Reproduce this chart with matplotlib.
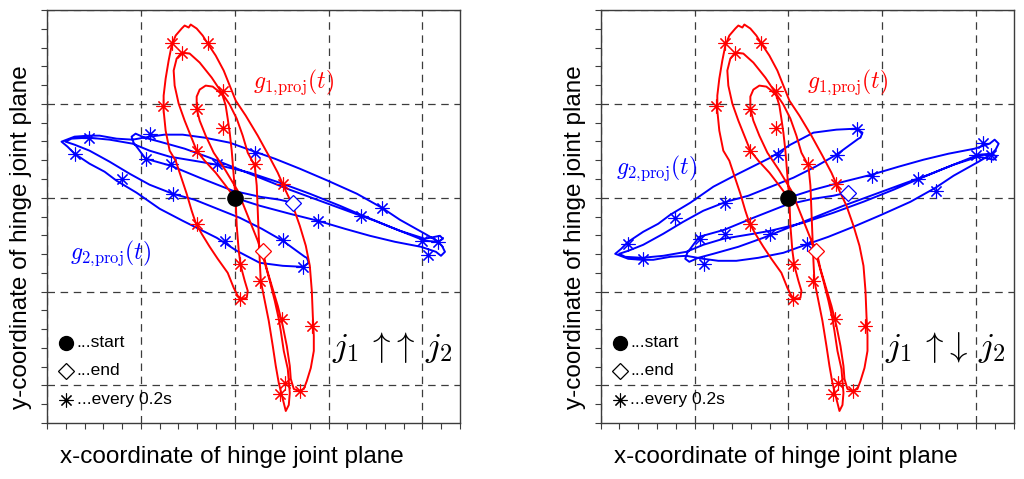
import numpy as np
import matplotlib
matplotlib.use("Agg")
import matplotlib.pyplot as plt
from matplotlib.ticker import MultipleLocator

plt.rcParams.update({
    'font.family': 'sans-serif',
    'font.sans-serif': ['Liberation Sans', 'DejaVu Sans'],
    'mathtext.fontset': 'cm',
})

RED = "#FF0000"
BLUE = "#0000FF"
GRID = "#3C3C3C"
U = 93.75  # grid spacing (arbitrary units, no tick labels)

# ── g1,proj(t): same trajectory in both panels ───────────────────────────────
g1_x = [0, -9, -19, -30, -38, -44, -50, -56, -60, -61, -58, -53,
        -45, -35, -23, -13, -5, 2, 8, 13, 20, 22, 23, 24, 25, 26, 30, 34, 38, 41, 44, 48, 51, 54,
        55, 54, 53, 49, 46, 44, 40, 35, 30, 23, 13, 3, -9, -21, -29, -35, -38, -38, -35, -29, -22,
        -17, -12, -9, -7, -5, -3, -1, 1, 2, 4, 6, 10, 13, 12, 7,
        3, -1, -7, -17, -25, -33, -39, -43, -48, -54, -59, -65, -69, -71, -71, -69, -66, -63, -59,
        -53, -50, -46, -44, -41, -38,
        -32, -27, -19, -11, -5, 1, 11, 23, 34, 43, 50, 58, 65, 71, 75, 77, 78, 79, 79, 76, 72, 69, 64,
        59, 56, 55, 52, 48, 43, 37, 32, 28]
g1_y = [0, 12, 25, 37, 47, 62, 77, 94, 112, 127, 139, 145,
        144, 135, 120, 105, 93, 79, 62, 45, 32, 12, -13, -38, -63, -83, -103, -123, -148, -168, -185,
        -201, -213, -207,
        -195, -183, -171, -153, -133, -121, -103, -83, -65, -43, -18, 7, 27, 45, 62, 77, 89, 101, 108,
        112, 111,
        107, 102, 92, 79, 65, 47, 22, -3, -28, -53, -68, -83, -93, -100, -101,
        -98, -90, -75, -61, -49, -36, -25, -13, 4, 22, 37, 47, 67, 87, 102, 119, 137, 152, 162,
        169, 172, 170, 173, 171, 169,
        162, 154, 142, 127, 112, 97, 82, 62, 42, 25, 9, -8, -28, -48, -68, -93, -118, -138, -153,
        -170, -183, -191, -193,
        -191, -181, -168, -148, -128, -108, -88, -71, -53]
g1_star_x = [-63, -53, -27, -72, -38, -12, -12, -38, 20, 48, -38, 5, 25, 5, 47, 77, 50, 45, 65]
g1_star_y = [155, 145, 155, 92, 89, 107, 70, 47, 34, 14, -26, -66, -83, -101, -121, -128, -185, -196, -193]
g1_end = (28, -53)

# ── g2,proj(t), left panel (j1 ↑↑ j2) ────────────────────────────────────────
g2a_x = [0, 25, 55, 83, 110, 135, 160, 186, 201, 206, 210, 207,
         202, 190, 165, 147, 122, 93, 65, 40, 20, -5, -30, -52, -70, -85, -102, -118, -135, -146, -160, -173,
         -167, -160, -145, -130, -118, -98, -75, -52, -18, 2, 25, 48, 68, 74, 72,
         70, 48, 27, 5, -20, -40, -62, -85, -105, -125, -145, -160, -169, -163,
         -146, -125, -102, -85, -65, -35, -18, 15, 45, 75, 105, 126, 155, 175, 190, 203, 208, 205,
         190, 165, 140, 115, 85, 55, 30, 5, -25, -50, -75, -90, -99, -103, -101, -95, -89, -64, -35,
         -2, 25, 45, 58]
g2a_y = [0, -8, -16, -23, -31, -38, -44, -49, -54, -58, -54, -48,
         -43, -36, -22, -10, 4, 17, 29, 39, 46, 55, 60, 63, 63, 61, 58, 59, 62, 62, 61, 56,
         51, 44, 34, 26, 17, 5, -11, -23, -40, -53, -65, -68, -69, -65, -60,
         -59, -43, -31, -20, -10, -2, 4, 13, 24, 36, 47, 53, 56, 59,
         60, 58, 54, 47, 41, 36, 33, 25, 15, 4, -8, -17, -29, -37, -43, -44, -41, -38,
         -41, -33, -23, -14, -3, 8, 18, 28, 40, 49, 56, 60, 64, 61, 55, 47, 39, 32, 20,
         7, 1, -2, -5]
g2a_star_x = [-146, -160, -85, -89, -64, -113, -62, -18, 20, -10, 48, 68, 83, 126, 147, 187, 203, 193]
g2a_star_y = [60, 44, 64, 39, 34, 19, 4, 34, 45, -43, -42, -69, -23, -18, -10, -43, -44, -57]
g2a_end = (58, -5)

# ── g2,proj(t), right panel (j1 ↑↓ j2) ───────────────────────────────────────
g2b_x = g2a_x
g2b_y = [0, 8, 16, 23, 31, 38, 44, 49, 54, 58, 54, 48,
         43, 36, 22, 10, -4, -17, -29, -39, -46, -55, -60, -63, -63, -61, -58, -59, -62, -62, -61, -56,
         -51, -44, -34, -26, -17, -5, 11, 23, 40, 53, 65, 68, 69, 65, 60,
         59, 43, 31, 20, 10, 2, -4, -13, -24, -36, -47, -53, -56, -59,
         -60, -58, -54, -47, -41, -36, -33, -25, -15, -4, 8, 17, 29, 37, 43, 44, 41, 38,
         41, 33, 23, 14, 3, -8, -18, -28, -40, -49, -56, -60, -64, -61, -55, -47, -39, -32, -20,
         -7, -1, 2, 5]
g2b_star_x = [-160, -145, -113, -63, -88, -63, -18, -10, -84, 19, 49, 69, 84, 129, 147, 187, 194, 202]
g2b_star_y = [-46, -61, -20, -5, -41, -36, -36, 43, -66, -46, 43, 69, 22, 19, 7, 43, 55, 43]
g2b_end = (60, 5)

panels = [
    dict(g2x=g2a_x, g2y=g2a_y, sx=g2a_star_x, sy=g2a_star_y, end=g2a_end,
         rel=r"$j_1\,{\uparrow}\!{\uparrow}\,j_2$", g2lab=(-124, -55)),
    dict(g2x=g2b_x, g2y=g2b_y, sx=g2b_star_x, sy=g2b_star_y, end=g2b_end,
         rel=r"$j_1\,{\uparrow}\!{\downarrow}\,j_2$", g2lab=(-132, 30)),
]

fig = plt.figure(figsize=(10.24, 4.79), dpi=100)
axes = [fig.add_axes([0.0459, 0.1169, 0.4033, 0.8622]),
        fig.add_axes([0.5866, 0.1169, 0.4033, 0.8622])]

STAR = (8, 2, 0)
for ax, p in zip(axes, panels):
    ax.set_xlim(-2 * U, 2.4 * U)
    ax.set_ylim(-2.4 * U, 2 * U)
    ax.xaxis.set_major_locator(MultipleLocator(U))
    ax.yaxis.set_major_locator(MultipleLocator(U))
    ax.xaxis.set_minor_locator(MultipleLocator(U / 5))
    ax.yaxis.set_minor_locator(MultipleLocator(U / 5))
    ax.tick_params(which='both', direction='out', length=4, width=0.8, color=GRID,
                   labelbottom=False, labelleft=False)
    ax.grid(True, which='major', color=GRID, lw=0.9, ls=(0, (6, 4.5)))
    for s in ax.spines.values():
        s.set_color(GRID)
        s.set_linewidth(1.0)

    # blue trajectory
    ax.plot(p['g2x'], p['g2y'], color=BLUE, lw=1.4, zorder=3)
    ax.plot(p['sx'], p['sy'], ls='none', marker=STAR, ms=10, mew=0.8, color=BLUE, zorder=4)
    ax.plot(*p['end'], ls='none', marker='D', ms=8, mfc='white', mec=BLUE, mew=0.9, zorder=6)

    # red trajectory
    ax.plot(g1_x, g1_y, color=RED, lw=1.4, zorder=4)
    ax.plot(g1_star_x, g1_star_y, ls='none', marker=STAR, ms=10, mew=0.8, color=RED, zorder=5)
    ax.plot(*g1_end, ls='none', marker='D', ms=8, mfc='white', mec=RED, mew=0.9, zorder=6)

    # start point
    ax.plot(0, 0, ls='none', marker='o', ms=11, color='black', zorder=7)

    # labels
    ax.text(59, 115, r"$g_{1{,}\mathrm{proj}}(t)$", color=RED, fontsize=17,
            ha='center', va='center')
    ax.text(*p['g2lab'], r"$g_{2{,}\mathrm{proj}}(t)$", color=BLUE, fontsize=17,
            ha='center', va='center')
    ax.text(157, -150, p['rel'], fontsize=25, ha='center', va='center')

    # legend (hand placed)
    for yy, mk, lab in [(0.194, 'o', '...start'), (0.126, 'D', '...end'), (0.056, STAR, '...every 0.2s')]:
        kw = dict(ms=10, color='black')
        if mk == 'D':
            kw = dict(ms=8, mfc='white', mec='black', mew=0.9)
        elif mk == STAR:
            kw = dict(ms=10, color='black', mew=0.8)
        ax.plot(0.046, yy, transform=ax.transAxes, marker=mk, ls='none', zorder=8, **kw)
        ax.text(0.072, yy, lab, transform=ax.transAxes, fontsize=12.5, va='center', ha='left')

    ax.set_xlabel("x-coordinate of hinge joint plane", fontsize=17.5)
    ax.set_ylabel("y-coordinate of hinge joint plane", fontsize=17.5)
    ax.xaxis.set_label_coords(0.448, -0.055)
    ax.yaxis.set_label_coords(-0.036, 0.45)

fig.savefig("out.png", dpi=100, facecolor='white')
